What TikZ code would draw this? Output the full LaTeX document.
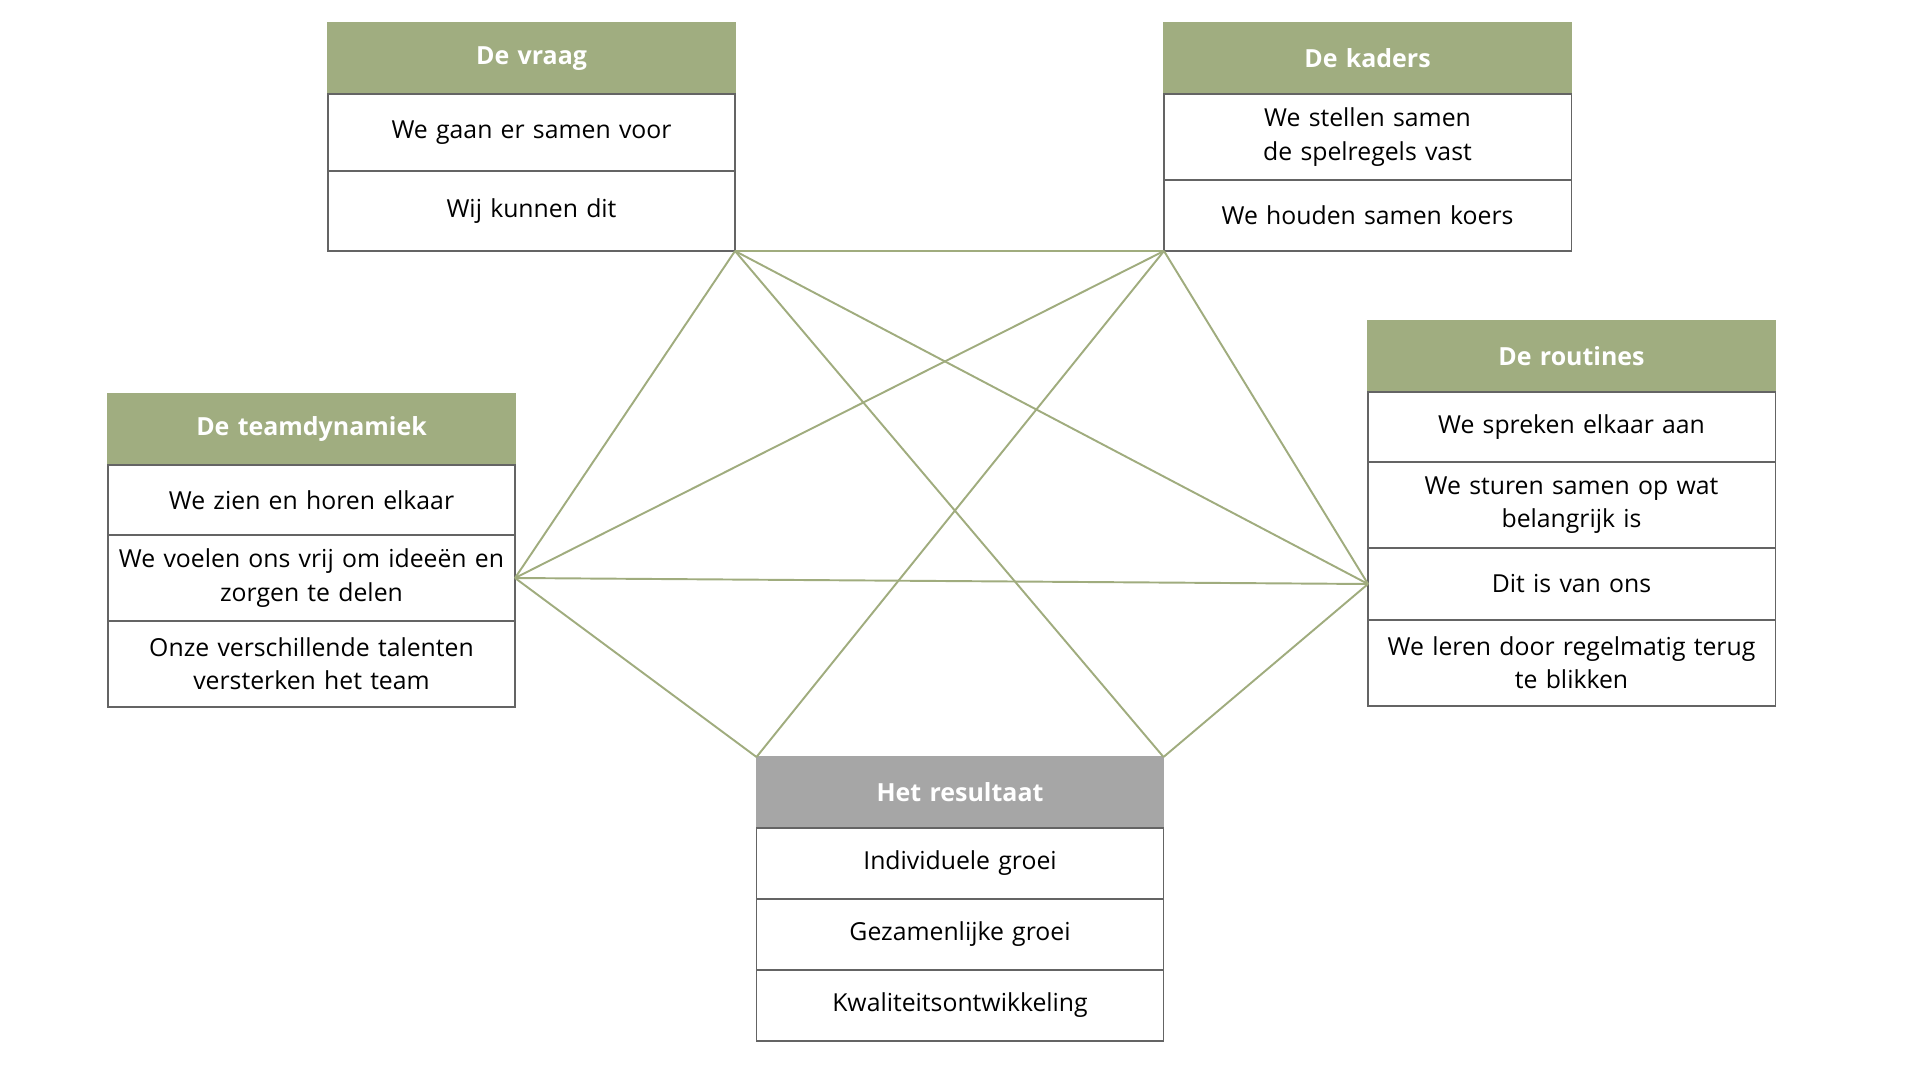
\documentclass[tikz,border=0pt]{standalone}
\usepackage{fontspec}
\setmainfont{Open Sans}
\usepackage{tikz}
\usetikzlibrary{positioning}
\definecolor{hdrgreen}{RGB}{160,173,128}
\definecolor{hdrgray}{RGB}{166,166,166}
\definecolor{mylink}{RGB}{160,172,126}
\definecolor{myborder}{RGB}{100,100,100}
\tikzset{
  head/.style={rectangle, draw=hdrgreen, fill=hdrgreen, text=white,
    text width=8.0cm, align=center, minimum height=1.42cm, inner xsep=2pt,
    font=\fontsize{14.2}{18}\selectfont\bfseries, outer sep=0pt, line width=0.6pt},
  grayhead/.style={head, draw=hdrgray, fill=hdrgray},
  row/.style={rectangle, draw=myborder, fill=white, text=black,
    text width=8.0cm, align=center, minimum height=1.45cm, inner xsep=2pt,
    font=\fontsize{14.1}{19}\selectfont, outer sep=0pt, line width=0.6pt},
  tallrow/.style={row, minimum height=1.72cm},
  link/.style={color=mylink, line width=1.1pt}
}
\begin{document}
\begin{tikzpicture}[node distance=0cm]
\useasboundingbox (0,0) rectangle (38.4,-21.6);

% De vraag
\node[head, anchor=north] (vraag) at (10.63,-0.46) {De vraag};
\node[row, below=of vraag, minimum height=1.54cm] (vraag1) {We gaan er samen voor};
\node[row, below=of vraag1, minimum height=1.6cm] (vraag2) {Wij kunnen dit};

% De kaders
\node[head, anchor=north] (kaders) at (27.35,-0.46) {De kaders};
\node[tallrow, below=of kaders] (kaders1) {We stellen samen\\ de spelregels vast};
\node[row, below=of kaders1, minimum height=1.42cm] (kaders2) {We houden samen koers};

% De teamdynamiek
\node[head, anchor=north] (team) at (6.23,-7.88) {De teamdynamiek};
\node[row, below=of team, minimum height=1.4cm] (team1) {We zien en horen elkaar};
\node[tallrow, below=of team1] (team2) {We voelen ons vrij om ideeën en\\ zorgen te delen};
\node[tallrow, below=of team2] (team3) {Onze verschillende talenten\\ versterken het team};

% De routines
\node[head, anchor=north] (rout) at (31.43,-6.42) {De routines};
\node[row, below=of rout, minimum height=1.4cm] (rout1) {We spreken elkaar aan};
\node[tallrow, below=of rout1] (rout2) {We sturen samen op wat\\ belangrijk is};
\node[row, below=of rout2, minimum height=1.44cm] (rout3) {Dit is van ons};
\node[tallrow, below=of rout3] (rout4) {We leren door regelmatig terug\\ te blikken};

% Het resultaat
\node[grayhead, anchor=north] (res) at (19.2,-15.14) {Het resultaat};
\node[row, below=of res, minimum height=1.42cm] (res1) {Individuele groei};
\node[row, below=of res1, minimum height=1.42cm] (res2) {Gezamenlijke groei};
\node[row, below=of res2, minimum height=1.42cm] (res3) {Kwaliteitsontwikkeling};

% verbindingen
\draw[link] (vraag2.south east) -- (kaders2.south west);
\draw[link] (vraag2.south east) -- (team2.east);
\draw[link] (vraag2.south east) -- (rout3.west);
\draw[link] (vraag2.south east) -- (res.north east);
\draw[link] (kaders2.south west) -- (team2.east);
\draw[link] (kaders2.south west) -- (rout3.west);
\draw[link] (kaders2.south west) -- (res.north west);
\draw[link] (team2.east) -- (rout3.west);
\draw[link] (team2.east) -- (res.north west);
\draw[link] (rout3.west) -- (res.north east);
\end{tikzpicture}
\end{document}
